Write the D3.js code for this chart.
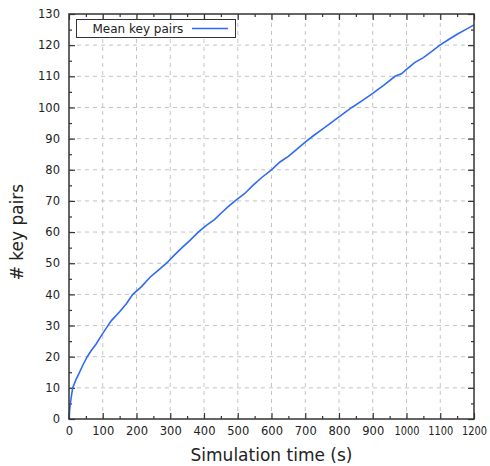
<!DOCTYPE html>
<html>
<head>
<meta charset="utf-8">
<script src="https://cdn.jsdelivr.net/npm/d3@7"></script>
<style>
  body { margin: 0; background: #fff; }
  text { font-family: "DejaVu Sans", sans-serif; fill: #222; }
</style>
</head>
<body>
<div id="chart"></div>
<script>
// values
let times = [0, 2, 4, 8, 11, 20, 30, 42, 54, 66, 80, 93, 107, 125, 150, 170, 189, 215, 240, 265,
             289, 312, 335, 360, 383, 408, 431, 452, 470, 492, 520, 545, 572, 600, 625, 650, 672,
             699, 725, 750, 775, 800, 820, 838, 870, 900, 935, 966, 985, 1000, 1025, 1050, 1075,
             1099, 1125, 1150, 1175, 1200]
let key_pairs = [0, 3, 5, 8, 10, 12.5, 14.7, 17.5, 20, 22, 24, 26.3, 28.6, 31.5, 34.4, 37, 40, 42.5,
                 45.5, 47.8, 50, 52.6, 55, 57.5, 60, 62.2, 64, 66.2, 68, 70, 72.3, 75, 77.6, 80,
                 82.5, 84.3, 86.3, 88.8, 91, 93, 95, 97, 98.6, 100, 102.3, 104.5, 107.3, 110,
                 110.8, 112.2, 114.5, 116, 118, 120, 121.8, 123.5, 125, 126.5]
let x_ticks = d3.range(0, 1201, 100)
let y_ticks = d3.range(0, 131, 10)
let series_name = "Mean key pairs"

let data = times.map(function(t, i) { return {t: t, v: key_pairs[i]} })

let width = 490,
    height = 466,
    margin = {top: 14, right: 16, bottom: 47, left: 69}

let x = d3.scaleLinear()
    .domain([0, 1200])
    .range([margin.left, width - margin.right])
let y = d3.scaleLinear()
    .domain([0, 130])
    .range([height - margin.bottom, margin.top])

let svg = d3.select("#chart").append("svg")
    .attr("width", width)
    .attr("height", height)

let axis_color = "#333"
let line_color = "#2f6af5"

// dashed grid
svg.append("g")
    .selectAll("line")
    .data(x_ticks.slice(1, -1)).enter()
      .append("line")
        .attr("x1", function(d) { return x(d) })
        .attr("x2", function(d) { return x(d) })
        .attr("y1", y(0))
        .attr("y2", y(130))
        .attr("stroke", "#c4c4c4")
        .attr("stroke-dasharray", "4,4")
svg.append("g")
    .selectAll("line")
    .data(y_ticks.slice(1, -1)).enter()
      .append("line")
        .attr("y1", function(d) { return y(d) })
        .attr("y2", function(d) { return y(d) })
        .attr("x1", x(0))
        .attr("x2", x(1200))
        .attr("stroke", "#c4c4c4")
        .attr("stroke-dasharray", "4,4")

// axes with inward ticks
function style_axis(g) {
  g.select(".domain").remove()
  g.selectAll(".tick line").attr("stroke", axis_color).attr("stroke-width", 1.2)
  g.selectAll(".tick text").style("font-size", "11.5px").attr("fill", "#222")
}

let x_minor = d3.range(50, 1200, 100)
let y_minor = d3.range(5, 130, 10)

svg.append("g")
    .attr("transform", "translate(0," + y(0) + ")")
    .call(d3.axisBottom(x).tickValues(x_ticks).tickSizeInner(-6).tickPadding(8).tickFormat(d3.format("d")))
    .call(style_axis)
    .selectAll(".tick text")
      .filter(function(d) { return d >= 1000 })
        .attr("textLength", 25)
        .attr("lengthAdjust", "spacingAndGlyphs")
svg.append("g")
    .attr("transform", "translate(0," + y(0) + ")")
    .call(d3.axisBottom(x).tickValues(x_minor).tickSizeInner(-3).tickFormat(""))
    .call(style_axis)
svg.append("g")
    .attr("transform", "translate(0," + y(130) + ")")
    .call(d3.axisTop(x).tickValues(x_ticks).tickSizeInner(-6).tickFormat(""))
    .call(style_axis)
svg.append("g")
    .attr("transform", "translate(0," + y(130) + ")")
    .call(d3.axisTop(x).tickValues(x_minor).tickSizeInner(-3).tickFormat(""))
    .call(style_axis)

svg.append("g")
    .attr("transform", "translate(" + x(0) + ",0)")
    .call(d3.axisLeft(y).tickValues(y_ticks).tickSizeInner(-6).tickPadding(9))
    .call(style_axis)
svg.append("g")
    .attr("transform", "translate(" + x(0) + ",0)")
    .call(d3.axisLeft(y).tickValues(y_minor).tickSizeInner(-3).tickFormat(""))
    .call(style_axis)
svg.append("g")
    .attr("transform", "translate(" + x(1200) + ",0)")
    .call(d3.axisRight(y).tickValues(y_ticks).tickSizeInner(-6).tickFormat(""))
    .call(style_axis)
svg.append("g")
    .attr("transform", "translate(" + x(1200) + ",0)")
    .call(d3.axisRight(y).tickValues(y_minor).tickSizeInner(-3).tickFormat(""))
    .call(style_axis)

// data line
let line = d3.line()
    .x(function(d) { return x(d.t) })
    .y(function(d) { return y(d.v) })

svg.append("path")
    .datum(data)
    .attr("d", line)
    .attr("fill", "none")
    .attr("stroke", line_color)
    .attr("stroke-width", 1.6)

// frame
svg.append("rect")
    .attr("x", x(0))
    .attr("y", y(130))
    .attr("width", x(1200) - x(0))
    .attr("height", y(0) - y(130))
    .attr("fill", "none")
    .attr("stroke", axis_color)
    .attr("stroke-width", 1.5)

// legend
let legend = svg.append("g")
legend.append("rect")
    .attr("x", 76.5)
    .attr("y", 19.5)
    .attr("width", 159)
    .attr("height", 18)
    .attr("fill", "#fff")
    .attr("stroke", axis_color)
    .attr("stroke-width", 1)
legend.append("text")
    .attr("x", 92.5)
    .attr("y", 33)
    .style("font-size", "12px")
    .text(series_name)
legend.append("line")
    .attr("x1", 192)
    .attr("x2", 228)
    .attr("y1", 28.5)
    .attr("y2", 28.5)
    .attr("stroke", line_color)
    .attr("stroke-width", 1.3)

// axis titles
svg.append("text")
    .attr("x", (x(0) + x(1200)) / 2)
    .attr("y", 461)
    .attr("text-anchor", "middle")
    .style("font-size", "17px")
    .text("Simulation time (s)")
svg.append("text")
    .attr("transform", "translate(23," + (y(60)) + ") rotate(-90)")
    .attr("text-anchor", "middle")
    .style("font-size", "17px")
    .text("# key pairs")
</script>
</body>
</html>
